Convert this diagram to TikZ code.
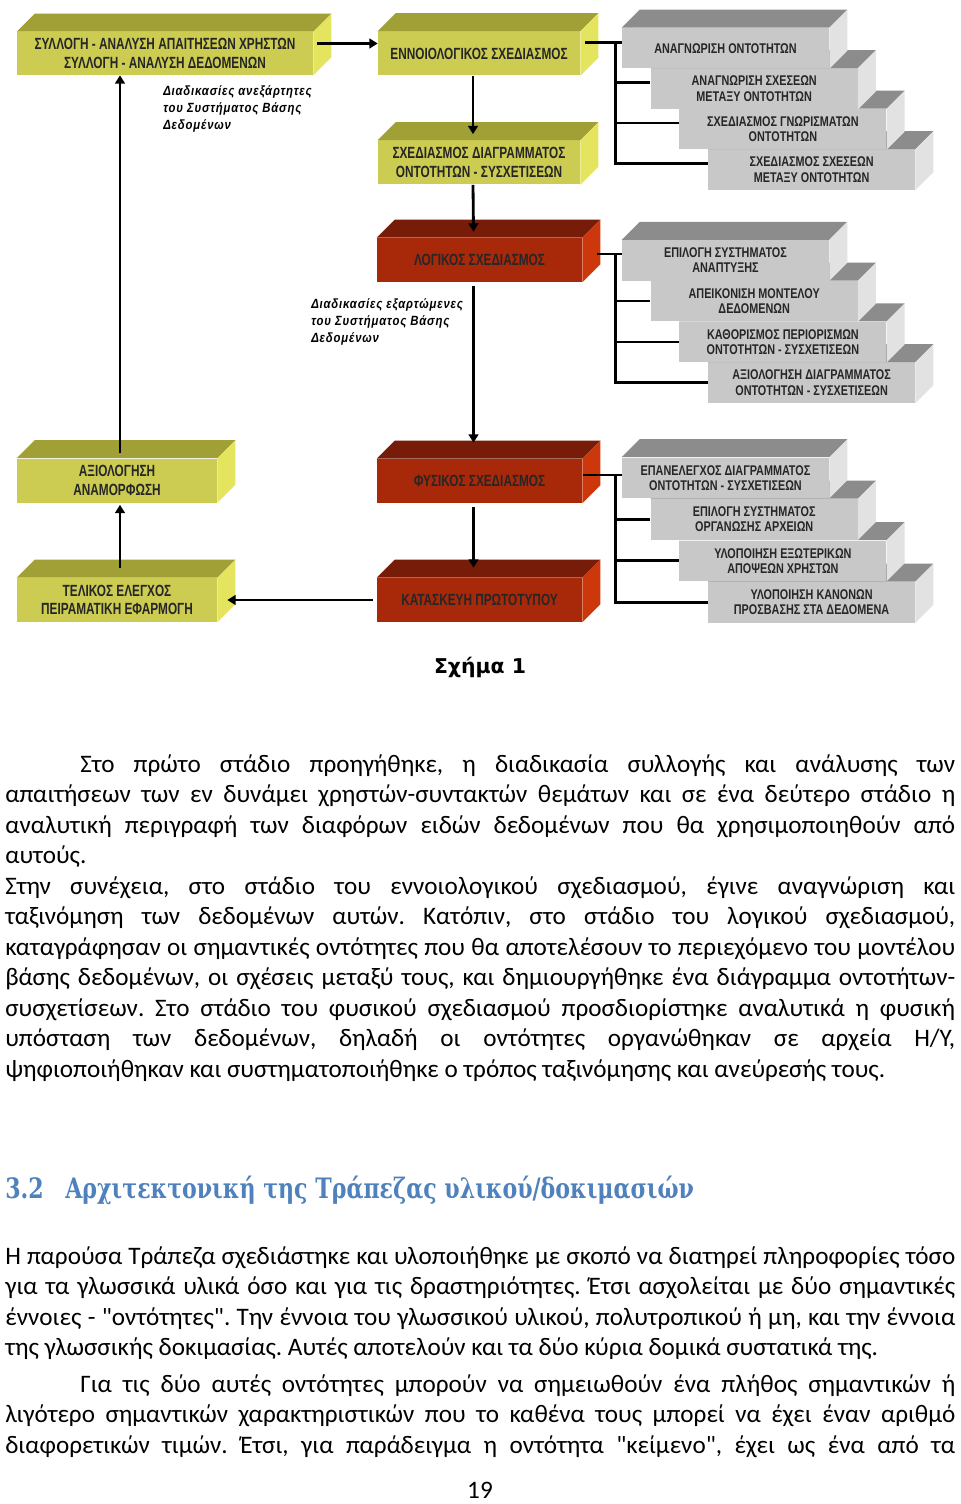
\documentclass[tikz,border=0pt]{standalone}
\usepackage{fontspec}
\setmainfont{Carlito}
\newfontfamily\stagefont[FakeStretch=0.73]{Liberation Sans}
\newfontfamily\stepfont[FakeStretch=0.77]{Liberation Sans}
\newfontfamily\notefont[FakeStretch=0.85,LetterSpace=6]{Liberation Sans}
\newfontfamily\headfont[FakeStretch=0.786]{DejaVu Serif}
\newfontfamily\capfont{DejaVu Sans}
\usepackage{xcolor}
\usepackage{tikz}
\usetikzlibrary{arrows.meta,positioning,calc}
\newlength{\px}\setlength{\px}{0.025cm}
\definecolor{yelfront}{RGB}{204,204,82}
\definecolor{yeltop}{RGB}{160,160,55}
\definecolor{yelside}{RGB}{228,228,95}
\definecolor{redfront}{RGB}{168,40,10}
\definecolor{redtop}{RGB}{118,28,8}
\definecolor{redside}{RGB}{205,55,12}
\definecolor{grayfront}{RGB}{200,200,200}
\definecolor{graytop}{RGB}{140,140,140}
\definecolor{grayside}{RGB}{226,226,226}
\definecolor{headblue}{RGB}{79,129,189}
% top and right faces of a box
\newcommand{\faces}[2]{%
  \fill[#2top] (#1.north west) -- ++(18,-18) -- ($(#1.north east)+(18,-18)$) -- (#1.north east) -- cycle;
  \fill[#2side] (#1.north east) -- ++(18,-18) -- ($(#1.south east)+(18,-18)$) -- (#1.south east) -- cycle;}
\tikzset{
  stage/.style={fill=#1front, minimum width=202\px, minimum height=44\px,
    inner sep=0pt, align=center, text=black!85,
    font=\stagefont\bfseries\fontsize{11.5}{13}\selectfont},
  substep/.style={fill=grayfront, minimum width=207\px, minimum height=40.5\px,
    inner sep=0pt, align=center, text=black!85,
    font=\stepfont\bfseries\fontsize{10}{10.8}\selectfont},
  note/.style={align=left, anchor=west, inner sep=0pt,
    font=\notefont\bfseries\itshape\fontsize{9.5}{12.4}\selectfont},
  flow/.style={-{Triangle[length=6pt,width=7pt]}, line width=2pt},
  link/.style={line width=1.8pt},
  para/.style={text width=950\px, align=justify, inner sep=0pt, anchor=base west,
    font=\fontsize{17.9}{21.7}\selectfont}
}

\begin{document}
\begin{tikzpicture}[x=0.025cm, y=-0.025cm]
  \fill[white] (0,0) rectangle (960,1504);
  \useasboundingbox (0,0) rectangle (960,1504);

  % main stages
  \node[stage=yel, minimum width=296\px, minimum height=43\px] (req) at (165,53.5)
    {ΣΥΛΛΟΓΗ - ΑΝΑΛΥΣΗ ΑΠΑΙΤΗΣΕΩΝ ΧΡΗΣΤΩΝ\\ΣΥΛΛΟΓΗ - ΑΝΑΛΥΣΗ ΔΕΔΟΜΕΝΩΝ};
  \faces{req}{yel}
  \node[stage=yel] (concept) at (479,53.5) {ΕΝΝΟΙΟΛΟΓΙΚΟΣ ΣΧΕΔΙΑΣΜΟΣ};
  \faces{concept}{yel}
  \node[stage=yel] (erdiag) at (479,162.5) {ΣΧΕΔΙΑΣΜΟΣ ΔΙΑΓΡΑΜΜΑΤΟΣ\\ΟΝΤΟΤΗΤΩΝ - ΣΥΣΧΕΤΙΣΕΩΝ};
  \faces{erdiag}{yel}
  \node[stage=red, minimum width=205\px] (logical) at (479.5,260) {ΛΟΓΙΚΟΣ ΣΧΕΔΙΑΣΜΟΣ};
  \faces{logical}{red}
  \node[stage=red, minimum width=205\px] (physical) at (479.5,481) {ΦΥΣΙΚΟΣ ΣΧΕΔΙΑΣΜΟΣ};
  \faces{physical}{red}
  \node[stage=red, minimum width=205\px] (proto) at (479.5,600) {ΚΑΤΑΣΚΕΥΗ ΠΡΩΤΟΤΥΠΟΥ};
  \faces{proto}{red}
  \node[stage=yel, minimum width=200\px] (review) at (117,480.5) {ΑΞΙΟΛΟΓΗΣΗ\\ΑΝΑΜΟΡΦΩΣΗ};
  \faces{review}{yel}
  \node[stage=yel, minimum width=200\px] (final) at (117,600) {ΤΕΛΙΚΟΣ ΕΛΕΓΧΟΣ\\ΠΕΙΡΑΜΑΤΙΚΗ ΕΦΑΡΜΟΓΗ};
  \faces{final}{yel}

  % staircases of sub-steps (lowest first)
  \foreach \i/\txt in {4/{ΣΧΕΔΙΑΣΜΟΣ ΣΧΕΣΕΩΝ\\ΜΕΤΑΞΥ ΟΝΤΟΤΗΤΩΝ},
      3/{ΣΧΕΔΙΑΣΜΟΣ ΓΝΩΡΙΣΜΑΤΩΝ\\ΟΝΤΟΤΗΤΩΝ},
      2/{ΑΝΑΓΝΩΡΙΣΗ ΣΧΕΣΕΩΝ\\ΜΕΤΑΞΥ ΟΝΤΟΤΗΤΩΝ},
      1/{ΑΝΑΓΝΩΡΙΣΗ ΟΝΤΟΤΗΤΩΝ}} {
    \node[substep] (cs\i) at ({725.5+28.7*(\i-1)},{48.25+40.5*(\i-1)}) {\txt};
    \faces{cs\i}{gray}
  }
  \foreach \i/\txt in {4/{ΑΞΙΟΛΟΓΗΣΗ ΔΙΑΓΡΑΜΜΑΤΟΣ\\ΟΝΤΟΤΗΤΩΝ - ΣΥΣΧΕΤΙΣΕΩΝ},
      3/{ΚΑΘΟΡΙΣΜΟΣ ΠΕΡΙΟΡΙΣΜΩΝ\\ΟΝΤΟΤΗΤΩΝ - ΣΥΣΧΕΤΙΣΕΩΝ},
      2/{ΑΠΕΙΚΟΝΙΣΗ ΜΟΝΤΕΛΟΥ\\ΔΕΔΟΜΕΝΩΝ},
      1/{ΕΠΙΛΟΓΗ ΣΥΣΤΗΜΑΤΟΣ\\ΑΝΑΠΤΥΞΗΣ}} {
    \node[substep] (ls\i) at ({725.5+28.7*(\i-1)},{260.4+40.75*(\i-1)}) {\txt};
    \faces{ls\i}{gray}
  }
  \foreach \i/\txt in {4/{ΥΛΟΠΟΙΗΣΗ ΚΑΝΟΝΩΝ\\ΠΡΟΣΒΑΣΗΣ ΣΤΑ ΔΕΔΟΜΕΝΑ},
      3/{ΥΛΟΠΟΙΗΣΗ ΕΞΩΤΕΡΙΚΩΝ\\ΑΠΟΨΕΩΝ ΧΡΗΣΤΩΝ},
      2/{ΕΠΙΛΟΓΗ ΣΥΣΤΗΜΑΤΟΣ\\ΟΡΓΑΝΩΣΗΣ ΑΡΧΕΙΩΝ},
      1/{ΕΠΑΝΕΛΕΓΧΟΣ ΔΙΑΓΡΑΜΜΑΤΟΣ\\ΟΝΤΟΤΗΤΩΝ - ΣΥΣΧΕΤΙΣΕΩΝ}} {
    \node[substep] (ps\i) at ({725.5+28.7*(\i-1)},{477.75+41.5*(\i-1)}) {\txt};
    \faces{ps\i}{gray}
  }

  \node[note] (indep) at (163,109) {Διαδικασίες ανεξάρτητες\\του Συστήματος Βάσης\\Δεδομένων};
  \node[note] (dep) at (311,322) {Διαδικασίες εξαρτώμενες\\του Συστήματος Βάσης\\Δεδομένων};

  % flow between stages
  \draw[flow] ($(req.east)+(4,-10)$) -- ($(concept.west)+(0,-10)$);
  \draw[flow] ($(concept.south)+(-6,0)$) -- ($(erdiag.north)+(-6,-6)$);
  \draw[flow] ($(erdiag.south)+(-6,0)$) -- ($(logical.north)+(-6,-6)$);
  \draw[flow] ($(logical.south)+(-6,4)$) -- ($(physical.north)+(-6,-16)$);
  \draw[flow] ($(physical.south)+(-6,4)$) -- ($(proto.north)+(-6,-10)$);
  \draw[flow] ($(proto.west)+(-4,0)$) -- ($(final.east)+(10,0)$);
  \draw[flow] ($(final.north)+(3,-10)$) -- ($(review.south)+(3,2)$);
  \draw[flow] ($(review.north)+(3,-5)$) coordinate (up) -- (up |- req.south);

  % brackets to the sub-steps
  \coordinate (busA) at ($(concept.east)+(35,-11)$);
  \draw[link] ($(concept.east)+(5,-11)$) -- (busA) -- (busA -| cs1.west);
  \foreach \k in {2,3,4}
    \draw[link] (busA) |- ([yshift=4.3pt]cs\k.west);
  \coordinate (busB) at ($(logical.east)+(33,-6)$);
  \draw[link] ($(logical.east)+(15,-6)$) -- (busB) -- (busB -| ls1.west);
  \foreach \k in {2,3,4}
    \draw[link] (busB) |- (ls\k.west);
  \coordinate (busC) at ($(physical.east)+(33,-6)$);
  \draw[link] ($(physical.east)+(1,-6)$) -- (busC) -- (busC -| ps1.west);
  \foreach \k in {2,3,4}
    \draw[link] (busC) |- (ps\k.west);

  % page text
  \node[font=\capfont\bfseries\fontsize{14.5}{17}\selectfont] (figcap) at (480,667) {Σχήμα 1};
  \node[para] (intro) at (5,772) {\frenchspacing\hyphenpenalty=10000\hspace*{75\px}Στο πρώτο στάδιο προηγήθηκε, η διαδικασία συλλογής και ανάλυσης των\linebreak
    απαιτήσεων των εν δυνάμει χρηστών-συντακτών θεμάτων και σε ένα δεύτερο στάδιο η\linebreak
    αναλυτική περιγραφή των διαφόρων ειδών δεδομένων που θα χρησιμοποιηθούν από\linebreak
    αυτούς.\par
    Στην συνέχεια, στο στάδιο του εννοιολογικού σχεδιασμού, έγινε αναγνώριση και\linebreak
    ταξινόμηση των δεδομένων αυτών. Κατόπιν, στο στάδιο του λογικού σχεδιασμού,\linebreak
    καταγράφησαν οι σημαντικές οντότητες που θα αποτελέσουν το περιεχόμενο του μοντέλου\linebreak
    βάσης δεδομένων, οι σχέσεις μεταξύ τους, και δημιουργήθηκε ένα διάγραμμα οντοτήτων-\linebreak
    συσχετίσεων. Στο στάδιο του φυσικού σχεδιασμού προσδιορίστηκε αναλυτικά η φυσική\linebreak
    υπόσταση των δεδομένων, δηλαδή οι οντότητες οργανώθηκαν σε αρχεία Η/Υ,\linebreak
    ψηφιοποιήθηκαν και συστηματοποιήθηκε ο τρόπος ταξινόμησης και ανεύρεσής τους.};
  \node[anchor=base west, inner sep=0pt, text=headblue,
    font=\headfont\bfseries\fontsize{20}{24}\selectfont] (heading) at (5,1198)
    {\makebox[60\px][l]{3.2}Αρχιτεκτονική της Τράπεζας υλικού/δοκιμασιών};
  \node[para] (bankdesc) at (5,1264) {\frenchspacing\hyphenpenalty=10000 Η παρούσα Τράπεζα σχεδιάστηκε και υλοποιήθηκε με σκοπό να διατηρεί πληροφορίες τόσο\linebreak
    για τα γλωσσικά υλικά όσο και για τις δραστηριότητες. Έτσι ασχολείται με δύο σημαντικές\linebreak
    έννοιες - \textquotedbl οντότητες\textquotedbl. Την έννοια του γλωσσικού υλικού, πολυτροπικού ή μη, και την έννοια\linebreak
    της γλωσσικής δοκιμασίας. Αυτές αποτελούν και τα δύο κύρια δομικά συστατικά της.\par
    \vspace{4.3pt}
    \hspace*{75\px}Για τις δύο αυτές οντότητες μπορούν να σημειωθούν ένα πλήθος σημαντικών ή\linebreak
    λιγότερο σημαντικών χαρακτηριστικών που το καθένα τους μπορεί να έχει έναν αριθμό\linebreak
    διαφορετικών τιμών. Έτσι, για παράδειγμα η οντότητα \textquotedbl κείμενο\textquotedbl, έχει ως ένα από τα\linebreak};
  \node[inner sep=0pt, font=\fontsize{17.9}{21.7}\selectfont] (pageno) at (480,1490) {19};
\end{tikzpicture}
\end{document}
